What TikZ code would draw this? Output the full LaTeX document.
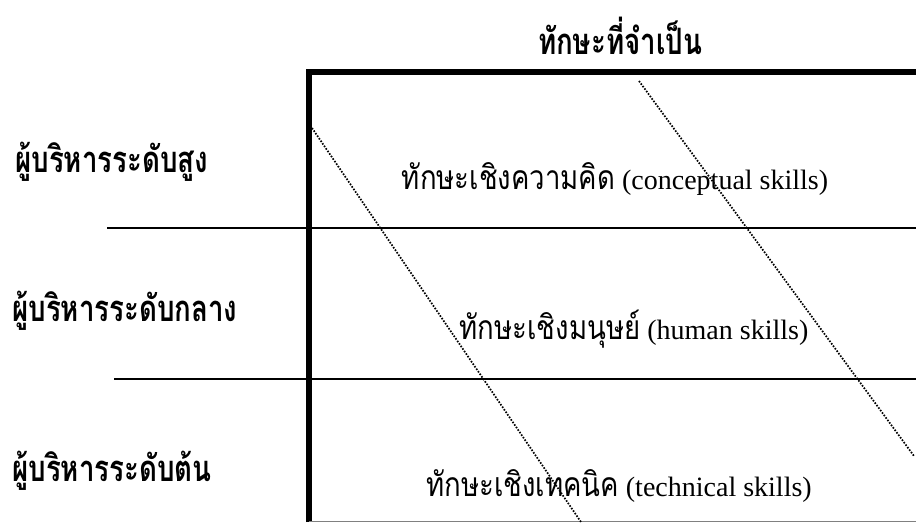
\documentclass[tikz,border=0pt]{standalone}
\usepackage{fontspec}
\setmainfont{Liberation Serif}
\newfontfamily\thai[Script=Thai, FakeStretch=0.76, Scale=1.3]{Loma}
\newfontfamily\thaitext[Script=Thai, FakeStretch=0.82, Scale=1.2]{Loma}
\tikzset{
  rowline/.style={line width=1.5pt},
  frameline/.style={line width=3.8pt},
  slant/.style={line width=1.3pt, dash pattern=on 1.2pt off 1.1pt},
  level/.style={anchor=west, inner sep=0pt, font=\thai\bfseries\fontsize{21}{24}\selectfont},
  skill/.style={inner sep=0pt, font=\fontsize{21}{24}\selectfont},
}

\begin{document}
\begin{tikzpicture}[x=0.75pt, y=-0.75pt]
    \useasboundingbox (0,0) rectangle (916,522);
    \draw[frameline] (309,522) -- (309,72) -- (916,72);
    \draw[rowline] (107,228) -- (916,228);
    \draw[rowline] (114,379) -- (916,379);
    \draw[gray, line width=0.75pt] (309,521.5) -- (916,521.5);
    \draw[slant] (312,128) -- (581,522);
    \draw[slant] (639,81) -- (914,456);
    \node[inner sep=0pt, font=\thai\bfseries\fontsize{21}{24}\selectfont] (need) at (620,36) {ทักษะที่จำเป็น};
    \node[level] (top) at (15,162) {ผู้บริหารระดับสูง};
    \node[level] (middle) at (12,311) {ผู้บริหารระดับกลาง};
    \node[level] (first) at (12,471) {ผู้บริหารระดับต้น};
    \node[skill] (concept) at (615,179) {{\thaitext ทักษะเชิงความคิด} (conceptual skills)};
    \node[skill] (human) at (634,329) {{\thaitext ทักษะเชิงมนุษย์} (human skills)};
    \node[skill] (tech) at (619,486) {{\thaitext ทักษะเชิงเทคนิค} (technical skills)};
\end{tikzpicture}
\end{document}
